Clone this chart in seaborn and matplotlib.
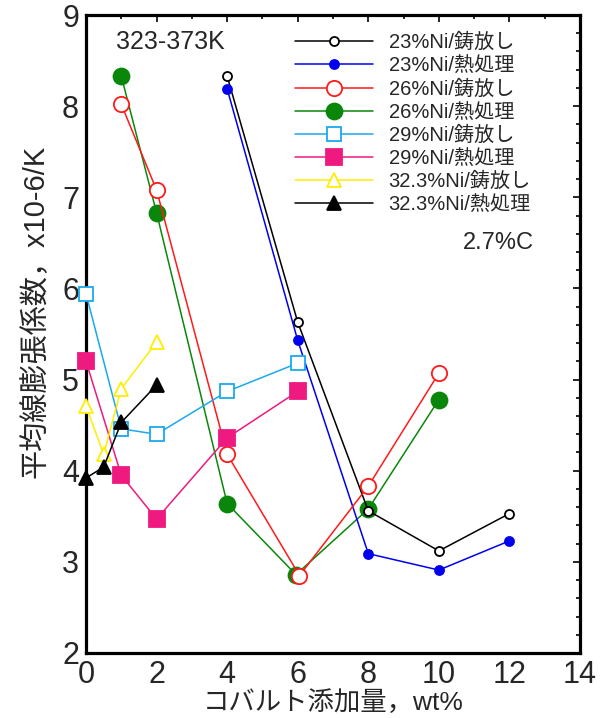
import matplotlib
matplotlib.use("Agg")
import matplotlib.pyplot as plt
from matplotlib.ticker import MultipleLocator
import seaborn as sns

# Cobalt addition (wt%) and mean thermal expansion coefficient (x10-6/K, 323-373K)
ni23_cast_x = [4, 6, 8, 10, 12]
ni23_cast_y = [8.33, 5.63, 3.56, 3.12, 3.53]
ni23_ht_x = [4, 6, 8, 10, 12]
ni23_ht_y = [8.19, 5.43, 3.09, 2.91, 3.23]
ni26_cast_x = [1, 2, 4, 6.05, 8, 10]
ni26_cast_y = [8.02, 7.08, 4.18, 2.85, 3.83, 5.07]
ni26_ht_x = [1, 2, 4, 5.95, 8, 10]
ni26_ht_y = [8.33, 6.83, 3.64, 2.86, 3.58, 4.78]
ni29_cast_x = [0, 1, 2, 4, 6]
ni29_cast_y = [5.94, 4.46, 4.40, 4.87, 5.18]
ni29_ht_x = [0, 1, 2, 4, 6]
ni29_ht_y = [5.20, 3.95, 3.47, 4.36, 4.87]
ni323_cast_x = [0, 0.5, 1, 2]
ni323_cast_y = [4.71, 4.18, 4.90, 5.41]
ni323_ht_x = [0, 0.5, 1, 2]
ni323_ht_y = [3.92, 4.04, 4.53, 4.94]

labels = ["23%Ni/鋳放し", "23%Ni/熱処理", "26%Ni/鋳放し", "26%Ni/熱処理",
          "29%Ni/鋳放し", "29%Ni/熱処理", "32.3%Ni/鋳放し", "32.3%Ni/熱処理"]

sns.set_theme(style="white")
plt.rcParams["font.family"] = ["Liberation Sans", "Noto Sans CJK JP", "DejaVu Sans"]

fig = plt.figure(figsize=(6.08, 7.18), dpi=100)
ax = fig.add_axes([86 / 608, 1 - 653 / 718, 494 / 608, 638 / 718])

series = [
    (ni23_cast_x, ni23_cast_y, "#000000", "o", 6.5, "white", 4),
    (ni23_ht_x, ni23_ht_y, "#0000ee", "o", 6.5, None, 4),
    (ni26_ht_x, ni26_ht_y, "#0a870a", "o", 11.5, None, 3),
    (ni26_cast_x, ni26_cast_y, "#ff1a1a", "o", 11, "white", 4),
    (ni29_cast_x, ni29_cast_y, "#1aa8ee", "s", 10, "white", 4),
    (ni29_ht_x, ni29_ht_y, "#ee1a80", "s", 11, None, 5),
    (ni323_cast_x, ni323_cast_y, "#ffee00", "^", 10, "white", 5),
    (ni323_ht_x, ni323_ht_y, "#000000", "^", 9.5, None, 6),
]
series_labels = [labels[0], labels[1], labels[3], labels[2],
                 labels[4], labels[5], labels[6], labels[7]]

for (xs, ys, col, mk, ms, fc, z), lab in zip(series, series_labels):
    sns.lineplot(x=xs, y=ys, ax=ax, color=col, marker=mk, markersize=ms,
                 markerfacecolor=fc if fc else col, markeredgecolor=col,
                 markeredgewidth=1.3, linewidth=1.1, sort=False,
                 estimator=None, label=lab, clip_on=False, zorder=z)

ax.set_xlim(0, 14)
ax.set_ylim(2, 9)
ax.xaxis.set_major_locator(MultipleLocator(2))
ax.xaxis.set_minor_locator(MultipleLocator(1))
ax.yaxis.set_major_locator(MultipleLocator(1))
ax.yaxis.set_minor_locator(MultipleLocator(0.2))
ax.tick_params(which="both", direction="in", top=True, right=True,
               width=1.2, color="black")
ax.tick_params(which="major", length=5, labelsize=22, pad=5)
ax.tick_params(which="minor", length=3)
for s in ax.spines.values():
    s.set_linewidth(2.3)
    s.set_color("black")

ax.set_xlabel("コバルト添加量，wt%", fontsize=19, va="top")
ax.xaxis.set_label_coords(0.5, -0.058)
ax.set_ylabel("平均線膨張係数，x10-6/K", fontsize=21)
ax.yaxis.set_label_coords(-0.074, 0.535)

ax.text(0.06, 0.958, "323-373K", transform=ax.transAxes, fontsize=18,
        va="center", ha="left")
ax.text(0.762, 0.643, "2.7%C", transform=ax.transAxes, fontsize=17,
        va="center", ha="left")

handles, labs = ax.get_legend_handles_labels()
order = [labs.index(l) for l in labels]
ax.legend([handles[i] for i in order], [labs[i] for i in order],
          loc="upper left", bbox_to_anchor=(295 / 608, 1 - 33 / 718),
          bbox_transform=fig.transFigure, frameon=False, fontsize=14.5,
          handlelength=3.85, handletextpad=0.8, labelspacing=0.2,
          borderpad=0, borderaxespad=0)

fig.savefig("out.png", dpi=100)
